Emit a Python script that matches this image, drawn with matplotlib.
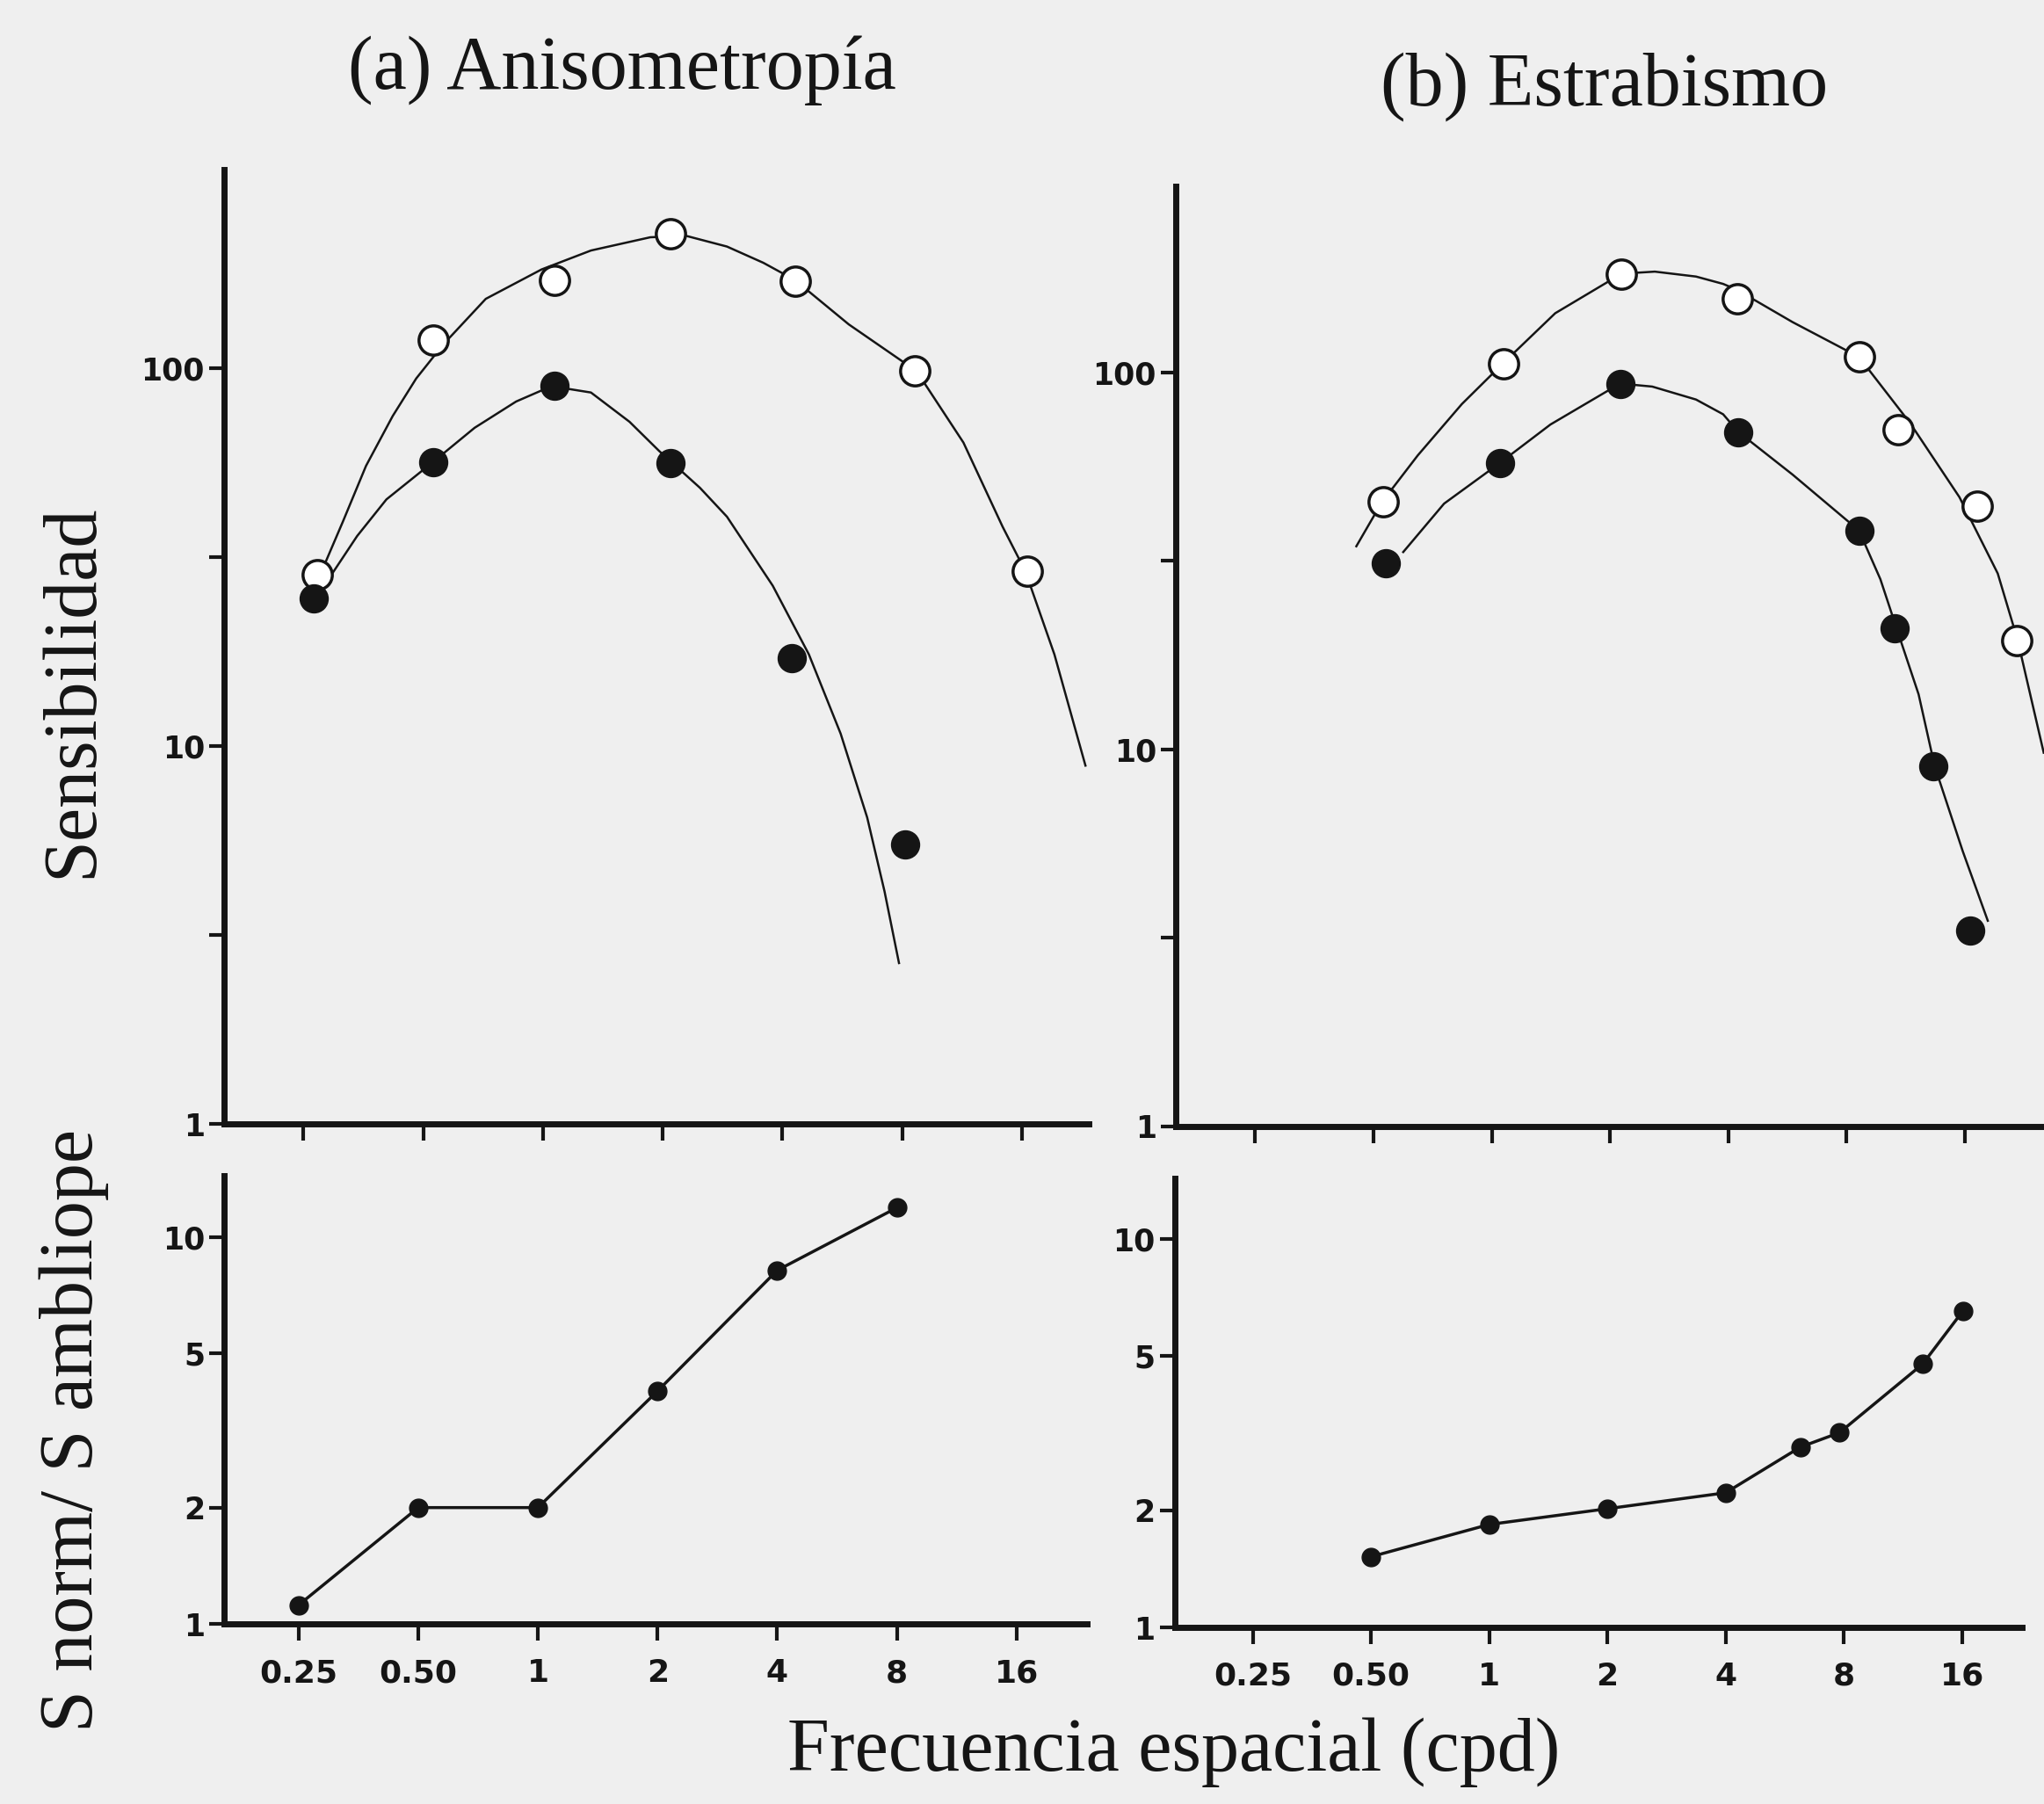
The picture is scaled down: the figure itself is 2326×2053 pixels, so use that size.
import matplotlib

matplotlib.use("Agg")
import matplotlib.pyplot as plt
from matplotlib.ticker import FixedLocator, NullFormatter, NullLocator

# eje de frecuencia espacial (cpd), compartido por los cuatro paneles
FREQ_TICKS = [0.25, 0.5, 1, 2, 4, 8, 16]
FREQ_LABELS = ["0.25", "0.50", "1", "2", "4", "8", "16"]

# (a) Anisometropía -- sensibilidad, ojo normal (abiertos) y ambliope (llenos)
ANISO_NORM_X = [0.27, 0.53, 1.07, 2.09, 4.3, 8.6, 16.5]
ANISO_NORM_Y = [28.5, 119, 171, 227, 170, 98.6, 29.1]
ANISO_AMB_X = [0.265, 0.53, 1.07, 2.09, 4.22, 8.13]
ANISO_AMB_Y = [24.6, 56.5, 90, 56, 17.1, 5.5]

# curvas ajustadas tal como aparecen dibujadas
ANISO_NORM_CURVE_X = [0.281, 0.314, 0.359, 0.419, 0.48, 0.562, 0.718, 0.991,
                      1.32, 1.86, 2.28, 2.9, 3.58, 4.3, 5.87, 8.69, 11.4,
                      14.3, 16.3, 19.3, 23.1]
ANISO_NORM_CURVE_Y = [29.9, 39.3, 55.2, 74.8, 94, 115.8, 152.7, 182.6,
                      205, 222.2, 224.4, 210, 190.2, 171.2, 130.7, 98.3, 63.6,
                      38.1, 29.1, 17.5, 8.89]
ANISO_AMB_CURVE_X = [0.293, 0.341, 0.404, 0.531, 0.673, 0.856, 1.05, 1.32,
                     1.65, 1.96, 2.48, 2.9, 3.78, 4.66, 5.6, 6.53, 7.22, 7.85]
ANISO_AMB_CURVE_Y = [28.3, 36, 45, 56.7, 69.6, 81.7, 89.7, 86.3,
                     72.2, 60.4, 48.3, 40.5, 26.6, 17.5, 10.8, 6.48, 4.13, 2.67]

# (b) Estrabismo
STRAB_NORM_X = [0.528, 1.07, 2.14, 4.21, 8.63, 10.8, 17.2, 21.7]
STRAB_NORM_Y = [45.4, 105.4, 182, 157, 110, 70.5, 44.1, 19.4]
STRAB_AMB_X = [0.536, 1.047, 2.12, 4.24, 8.63, 10.6, 13.3, 16.5]
STRAB_AMB_Y = [31.2, 57.4, 93.4, 69.5, 38.1, 21, 9.0, 3.3]

STRAB_NORM_CURVE_X = [0.452, 0.525, 0.648, 0.839, 1.07, 1.45, 2.14, 2.6,
                      3.31, 3.88, 4.2, 5.83, 8.6, 11.6, 15.5, 19.4, 21.8, 25.4]
STRAB_NORM_CURVE_Y = [34.6, 45.3, 60.3, 82.5, 106, 143.7, 183, 185.3,
                      179.8, 171.9, 166, 136.1, 110, 73.5, 46.7, 29.3, 19.5, 9.8]
STRAB_AMB_CURVE_X = [0.595, 0.756, 1.04, 1.41, 2.12, 2.56, 3.31, 3.88, 4.24,
                     5.83, 8.6, 9.75, 10.7, 12.2, 13.4, 15.8, 18.3]
STRAB_AMB_CURVE_Y = [33.4, 44.9, 57.2, 72.8, 93.5, 91.8, 84.8, 77.5, 69.6,
                     53.6, 38.1, 28.3, 21.1, 14.0, 9.04, 5.37, 3.51]

# cociente S norm / S ambliope
ANISO_RATIO_X = [0.25, 0.5, 1, 2, 4, 8]
ANISO_RATIO_Y = [1.12, 2.0, 2.0, 4.0, 8.2, 11.9]
STRAB_RATIO_X = [0.5, 1, 2, 4, 6.2, 7.8, 12.7, 16.1]
STRAB_RATIO_Y = [1.52, 1.84, 2.02, 2.22, 2.91, 3.17, 4.76, 6.53]

INK = "#151515"
PAPER = "#efefef"
SERIF = "Liberation Serif"
TICK_FONT = "DejaVu Sans"


def style_axes(ax, xlim, ylim, yticks, ylabels, yminor, show_xlabels):
    ax.set_xscale("log")
    ax.set_yscale("log")
    ax.set_xlim(*xlim)
    ax.set_ylim(*ylim)
    ax.patch.set_alpha(0)
    for side in ("top", "right"):
        ax.spines[side].set_visible(False)
    for side in ("left", "bottom"):
        ax.spines[side].set_linewidth(5)
        ax.spines[side].set_color(INK)
    ax.xaxis.set_major_locator(FixedLocator(FREQ_TICKS))
    ax.xaxis.set_minor_locator(NullLocator())
    ax.xaxis.set_minor_formatter(NullFormatter())
    if show_xlabels:
        ax.set_xticklabels(FREQ_LABELS)
    else:
        ax.set_xticklabels([])
    ax.yaxis.set_major_locator(FixedLocator(yticks))
    ax.set_yticklabels(ylabels)
    ax.yaxis.set_minor_locator(FixedLocator(yminor))
    ax.yaxis.set_minor_formatter(NullFormatter())
    ax.tick_params(axis="x", which="both", direction="out", length=14, width=3,
                   color=INK, pad=14, labelsize=26, labelcolor=INK)
    ax.tick_params(axis="y", which="both", direction="out", length=12, width=3,
                   color=INK, pad=4, labelsize=25, labelcolor=INK)
    for lab in ax.get_xticklabels() + ax.get_yticklabels():
        lab.set_fontfamily(TICK_FONT)
        lab.set_fontweight("bold")


def draw_csf(ax, curve_n, curve_a, pts_n, pts_a):
    ax.plot(*curve_n, color=INK, lw=1.8, zorder=2, solid_joinstyle="round")
    ax.plot(*curve_a, color=INK, lw=1.8, zorder=2, solid_joinstyle="round")
    ax.plot(*pts_n, linestyle="none", marker="o", ms=24, mfc="white",
            mec=INK, mew=2.5, zorder=3, clip_on=False)
    ax.plot(*pts_a, linestyle="none", marker="o", ms=23, mfc=INK,
            mec=INK, mew=1, zorder=3, clip_on=False)


def draw_ratio(ax, x, y):
    ax.plot(x, y, color=INK, lw=2.5, marker="o", ms=15, mfc=INK, mec=INK,
            zorder=3, clip_on=False)


fig = plt.figure(figsize=(23.26, 20.53), dpi=100, facecolor=PAPER)

ax_a = fig.add_axes([0.1097, 0.3768, 0.4228, 0.5293])
ax_b = fig.add_axes([0.5753, 0.3757, 0.4324, 0.5210])
ax_c = fig.add_axes([0.1097, 0.0997, 0.4222, 0.2486])
ax_d = fig.add_axes([0.5746, 0.0979, 0.4145, 0.2489])

draw_csf(ax_a, (ANISO_NORM_CURVE_X, ANISO_NORM_CURVE_Y),
         (ANISO_AMB_CURVE_X, ANISO_AMB_CURVE_Y),
         (ANISO_NORM_X, ANISO_NORM_Y), (ANISO_AMB_X, ANISO_AMB_Y))
draw_csf(ax_b, (STRAB_NORM_CURVE_X, STRAB_NORM_CURVE_Y),
         (STRAB_AMB_CURVE_X, STRAB_AMB_CURVE_Y),
         (STRAB_NORM_X, STRAB_NORM_Y), (STRAB_AMB_X, STRAB_AMB_Y))
draw_ratio(ax_c, ANISO_RATIO_X, ANISO_RATIO_Y)
draw_ratio(ax_d, STRAB_RATIO_X, STRAB_RATIO_Y)

sens_ticks, sens_labels = [1, 10, 100], ["1", "10", "100"]
sens_minor = [10 ** 0.5, 10 ** 1.5]
style_axes(ax_a, (0.158, 23.5), (1, 336), sens_ticks, sens_labels, sens_minor, False)
style_axes(ax_b, (0.157, 27.9), (1, 312), sens_ticks, sens_labels, sens_minor, False)
ratio_ticks, ratio_labels = [1, 2, 5, 10], ["1", "2", "5", "10"]
style_axes(ax_c, (0.1625, 24.1), (1, 14.4), ratio_ticks, ratio_labels, [], True)
style_axes(ax_d, (0.158, 22.7), (1, 14.3), ratio_ticks, ratio_labels, [], True)

fig.text(0.3044, 0.951, "(a) Anisometropía", family=SERIF, fontsize=62,
         color=INK, ha="center", va="baseline")
fig.text(0.785, 0.9417, "(b) Estrabismo", family=SERIF, fontsize=62,
         color=INK, ha="center", va="baseline")
fig.text(0.045, 0.617, "Sensibilidad", family=SERIF, fontsize=62, color=INK,
         rotation=90, rotation_mode="anchor", ha="center", va="baseline")
fig.text(0.045, 0.207, "S norm/ S ambliope", family=SERIF, fontsize=62,
         color=INK, rotation=90, rotation_mode="anchor", ha="center",
         va="baseline")
fig.text(0.5744, 0.0183, "Frecuencia espacial (cpd)", family=SERIF,
         fontsize=62, color=INK, ha="center", va="baseline")

fig.savefig("out.png", dpi=100, facecolor=PAPER)
